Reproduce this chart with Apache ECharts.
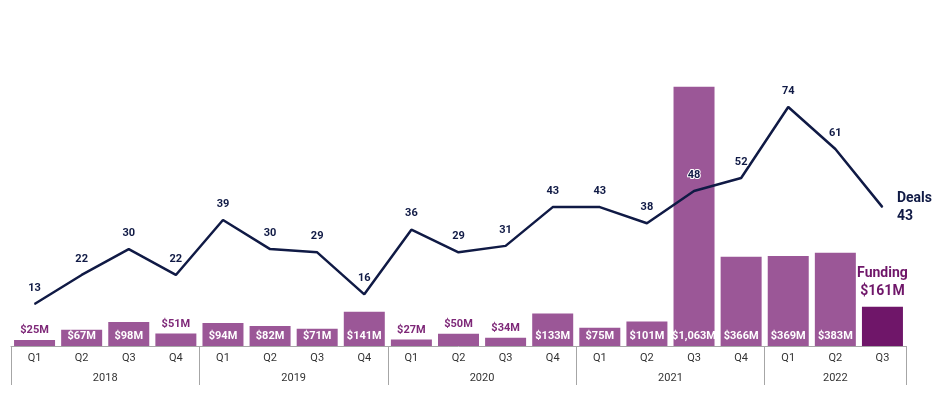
<!DOCTYPE html>
<html>
<head>
<meta charset="utf-8">
<script src="https://cdn.jsdelivr.net/npm/echarts@6/dist/echarts.min.js"></script>
<style>
  html, body { margin: 0; padding: 0; background: #fff; }
  #chart { width: 936px; height: 398px; }
</style>
</head>
<body>
<div id="chart"></div>
<script>
// data
var quarters = ['Q1','Q2','Q3','Q4','Q1','Q2','Q3','Q4','Q1','Q2','Q3','Q4','Q1','Q2','Q3','Q4','Q1','Q2','Q3'];
var years = ['2018','2019','2020','2021','2022'];
var yearQuarterCount = [4, 4, 4, 4, 3];
var funding = [25, 67, 98, 51, 94, 82, 71, 141, 27, 50, 34, 133, 75, 101, 1063, 366, 369, 383, 161];
var deals = [13, 22, 30, 22, 39, 30, 29, 16, 36, 29, 31, 43, 43, 38, 48, 52, 74, 61, 43];

var barColor = '#9B5797';
var lastBarColor = '#6F1669';
var lineColor = '#101A45';

// small bars get their label above, the rest inside at the bottom
var outsideLabel = [25, 51, 27, 50, 34];

function money(v) {
    return '$' + v.toLocaleString('en-US') + 'M';
}

// year row: half-quarter slots so labels can sit on boundaries
var yearSlots = [];
var yearLabelIdx = [];
var yearTickIdx = [0];
var pos = 0;
for (var i = 0; i < years.length; i++) {
    yearLabelIdx.push(pos + yearQuarterCount[i]);
    pos += yearQuarterCount[i] * 2;
    yearTickIdx.push(pos);
}
for (var k = 0; k <= pos; k++) {
    var yi = yearLabelIdx.indexOf(k);
    yearSlots.push(yi >= 0 ? years[yi] : '');
}

var barData = funding.map(function (v, i) {
    var last = i === funding.length - 1;
    var item = { value: v, itemStyle: { color: last ? lastBarColor : barColor } };
    if (last) {
        item.label = {
            show: true, position: 'top', distance: 6,
            formatter: 'Funding\n' + money(v),
            color: lastBarColor, fontSize: 14, fontWeight: 'bold', lineHeight: 18
        };
    } else if (outsideLabel.indexOf(v) >= 0) {
        item.label = { show: true, position: 'top', distance: 4, color: '#7E2878' };
    }
    return item;
});

var lineData = deals.map(function (v, i) {
    if (i === deals.length - 1) {
        return {
            value: v,
            label: {
                show: true, position: 'right', distance: 14,
                formatter: 'Deals\n' + v,
                fontSize: 14, lineHeight: 18, fontWeight: 'bold', color: lineColor,
                textBorderWidth: 0
            }
        };
    }
    return v;
});

var chart = echarts.init(document.getElementById('chart'));
chart.setOption({
    animation: false,
    textStyle: { fontFamily: 'Roboto' },
    grid: { left: 11, right: 30, top: 23, bottom: 52 },
    xAxis: [{
        type: 'category',
        data: quarters,
        boundaryGap: true,
        axisLine: { lineStyle: { color: '#A6A6A6', width: 1 } },
        axisTick: { show: false },
        axisLabel: { color: '#333', fontSize: 11, margin: 7, interval: 0 }
    }, {
        type: 'category',
        data: yearSlots,
        boundaryGap: false,
        position: 'bottom',
        axisLine: { show: false },
        axisTick: {
            show: true, length: 39,
            lineStyle: { color: '#A6A6A6', width: 1 },
            interval: function (idx) { return yearTickIdx.indexOf(idx) >= 0; }
        },
        axisLabel: {
            color: '#333', fontSize: 11, margin: 27,
            interval: function (idx) { return yearLabelIdx.indexOf(idx) >= 0; }
        }
    }],
    yAxis: [{
        type: 'value', min: 0, max: 1325, show: false, splitLine: { show: false }
    }, {
        type: 'value', min: 0, max: 100, show: false, splitLine: { show: false }
    }],
    series: [{
        name: 'Funding',
        type: 'bar',
        xAxisIndex: 0,
        yAxisIndex: 0,
        barWidth: 41,
        data: barData,
        label: {
            show: true,
            position: 'insideBottom',
            distance: 4,
            formatter: function (p) { return money(p.value); },
            color: '#fff',
            fontSize: 11,
            fontWeight: 'bold'
        }
    }, {
        name: 'Deals',
        type: 'line',
        xAxisIndex: 0,
        yAxisIndex: 1,
        data: lineData,
        symbol: 'circle',
        symbolSize: 1,
        showSymbol: true,
        itemStyle: { color: lineColor },
        lineStyle: { color: lineColor, width: 2.5 },
        z: 5,
        label: {
            show: true,
            position: 'top',
            distance: 10,
            color: lineColor,
            fontSize: 11,
            fontWeight: 'bold',
            textBorderColor: '#fff',
            textBorderWidth: 2
        }
    }]
});
</script>
</body>
</html>
